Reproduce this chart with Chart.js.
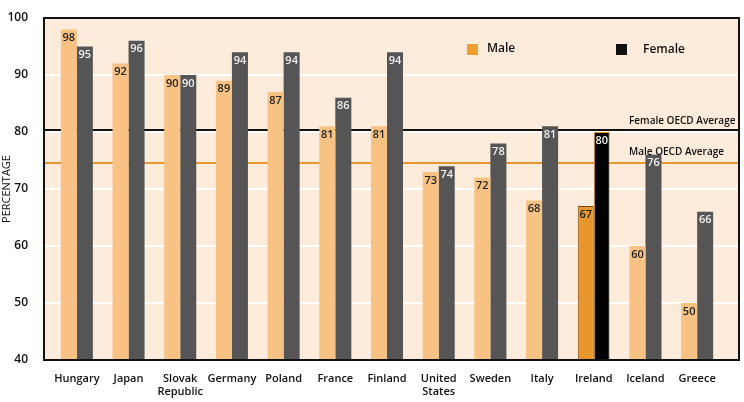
<!DOCTYPE html>
<html>
<head>
<meta charset="utf-8">
<script src="https://cdn.jsdelivr.net/npm/chart.js@4/dist/chart.umd.min.js"></script>
<style>
  html, body { margin: 0; padding: 0; background: #fff; }
  #wrap { width: 744px; height: 402px; }
</style>
</head>
<body>
<div id="wrap"><canvas id="barChart"></canvas></div>
<script>
const countries = ["Hungary", "Japan", ["Slovak", "Republic"], "Germany", "Poland", "France",
  "Finland", ["United", "States"], "Sweden", "Italy", "Ireland", "Iceland", "Greece"];
const maleValues = [98, 92, 90, 89, 87, 81, 81, 73, 72, 68, 67, 60, 50];
const femaleValues = [95, 96, 90, 94, 94, 86, 94, 74, 78, 81, 80, 76, 66];
const yTicks = [40, 50, 60, 70, 80, 90, 100];
const maleOecdAverage = 74.5;
const femaleOecdAverage = 80.3;
const highlight = "Ireland";

const FONT = "'Open Sans', 'Noto Sans', sans-serif";
const frame = { left: 44, right: 739 };

const isHi = i => countries[i] === highlight;

function hLine(ctx, py, color) {
  ctx.fillStyle = color;
  ctx.fillRect(frame.left, py - 1, frame.right - frame.left, 2);
}

// background, white grid and OECD lines behind the bars; labels, frame, legend on top
const decor = {
  id: "decor",
  beforeDatasetsDraw(chart) {
    const { ctx, chartArea, scales } = chart;
    const y = scales.y;
    ctx.save();
    ctx.fillStyle = "#fdebdc";
    ctx.fillRect(frame.left, chartArea.top, frame.right - frame.left, chartArea.bottom - chartArea.top);
    yTicks.slice(1, -1).forEach(v => hLine(ctx, Math.round(y.getPixelForValue(v)), "#ffffff"));
    hLine(ctx, Math.round(y.getPixelForValue(maleOecdAverage)), "#e8972f");
    hLine(ctx, Math.round(y.getPixelForValue(femaleOecdAverage)), "#111111");
    ctx.fillStyle = "#111";
    ctx.font = "600 10px " + FONT;
    ctx.textAlign = "left";
    ctx.textBaseline = "bottom";
    ctx.fillText("Female OECD Average", 629, Math.round(y.getPixelForValue(femaleOecdAverage)) - 4);
    ctx.restore();
  },
  afterDatasetsDraw(chart) {
    const { ctx, chartArea, scales } = chart;
    const y = scales.y;
    ctx.save();
    ctx.fillStyle = "#111";
    ctx.font = "600 10px " + FONT;
    ctx.textAlign = "left";
    ctx.textBaseline = "bottom";
    ctx.fillText("Male OECD Average", 629, Math.round(y.getPixelForValue(maleOecdAverage)) - 6);

    ctx.font = "600 11px " + FONT;
    ctx.textAlign = "center";
    ctx.textBaseline = "top";
    chart.data.datasets.forEach((ds, di) => {
      chart.getDatasetMeta(di).data.forEach((bar, i) => {
        ctx.fillStyle = di === 0 ? "#222" : "#f2f2f2";
        ctx.fillText(String(ds.data[i]), bar.x, bar.y + 3);
      });
    });

    // frame round the plot
    const t = Math.round(chartArea.top), b = Math.round(chartArea.bottom);
    ctx.fillStyle = "#111111";
    ctx.fillRect(frame.left - 1, t - 1, frame.right - frame.left + 2, 2);
    ctx.fillRect(frame.left - 1, b - 1, frame.right - frame.left + 2, 2);
    ctx.fillRect(frame.left - 1, t - 1, 2, b - t + 2);
    ctx.fillRect(frame.right - 1, t - 1, 2, b - t + 2);

    ctx.font = "600 12px " + FONT;
    ctx.textAlign = "left";
    ctx.textBaseline = "middle";
    ctx.fillStyle = "#f0a030";
    ctx.fillRect(467, 44, 11, 11);
    ctx.fillStyle = "#111";
    ctx.fillText("Male", 487, 49);
    ctx.fillRect(616, 44, 11, 11);
    ctx.fillText("Female", 643, 50);
    ctx.restore();
  }
};

const el = document.getElementById("barChart");
const ctx = el.getContext("2d");

const data = {
  labels: countries,
  datasets: [
    {
      label: "Male",
      data: maleValues,
      backgroundColor: maleValues.map((v, i) => isHi(i) ? "#e8972f" : "#f7c283"),
      borderColor: maleValues.map((v, i) => isHi(i) ? "#7a4a10" : "#f7c283"),
      borderWidth: maleValues.map((v, i) => isHi(i) ? 1 : 0),
      borderSkipped: "bottom"
    },
    {
      label: "Female",
      data: femaleValues,
      backgroundColor: femaleValues.map((v, i) => isHi(i) ? "#000000" : "#555555"),
      borderColor: femaleValues.map((v, i) => isHi(i) ? "#e8972f" : "#555555"),
      borderWidth: femaleValues.map((v, i) => isHi(i) ? 1 : 0),
      borderSkipped: "bottom"
    }
  ]
};

const options = {
  responsive: true,
  maintainAspectRatio: false,
  animation: false,
  layout: { padding: { top: 18, right: 21, bottom: 0, left: 0 } },
  plugins: {
    legend: { display: false },
    tooltip: { enabled: false }
  },
  datasets: {
    bar: { categoryPercentage: 0.62, barPercentage: 1 }
  },
  scales: {
    x: {
      grid: { display: false },
      border: { display: false },
      ticks: {
        color: "#111",
        font: { family: FONT, size: 11, weight: "600" },
        maxRotation: 0,
        autoSkip: false,
        padding: 4
      },
      afterFit(scale) {
        scale.height = 42;
        scale.paddingLeft = 0;
        scale.paddingRight = 0;
      }
    },
    y: {
      min: 40,
      max: 100,
      grid: { display: false },
      border: { display: false },
      afterBuildTicks(scale) { scale.ticks = yTicks.map(v => ({ value: v })); },
      ticks: {
        color: "#111",
        font: { family: FONT, size: 12, weight: "600" },
        padding: 15
      },
      title: {
        display: true,
        text: "PERCENTAGE",
        color: "#111",
        font: { family: FONT, size: 11 },
        padding: 0
      },
      afterFit(scale) {
        scale.width = 51;
        scale.paddingTop = 0;
        scale.paddingBottom = 0;
      }
    }
  }
};

new Chart(ctx, { type: "bar", data, options, plugins: [decor] });
</script>
</body>
</html>
